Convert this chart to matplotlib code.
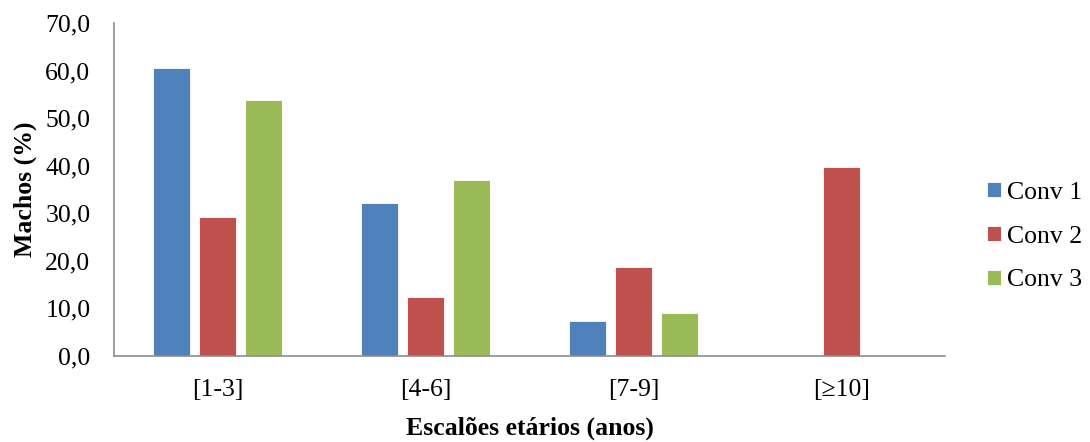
import numpy as np
import matplotlib
matplotlib.use("Agg")
import matplotlib.pyplot as plt

plt.rcParams['font.family'] = ['Liberation Serif', 'DejaVu Serif']

categories = ['[1-3]', '[4-6]', '[7-9]', '[≥10]']
conv1 = [60.5, 32.1, 7.3, 0.0]
conv2 = [29.1, 12.4, 18.7, 39.6]
conv3 = [53.9, 37.0, 8.9, 0.0]
series_names = ['Conv 1', 'Conv 2', 'Conv 3']
colors = ['#4f81bd', '#c0504d', '#9bbb59']

fig = plt.figure(figsize=(10.9, 4.42), dpi=100)
ax = fig.add_axes([114/1090, 1 - 355.7/442, (945-114)/1090, (355.7-23)/442])

x = np.arange(len(categories))
w = 0.178
step = 0.221
for i, (vals, name, c) in enumerate(zip([conv1, conv2, conv3], series_names, colors)):
    ax.bar(x + (i - 1) * step, vals, width=w, color=c, label=name,
           edgecolor='white', linewidth=0.6)

ax.set_xlim(-0.5, len(categories) - 0.5)
ax.set_ylim(0, 70)
ax.set_yticks(np.arange(0, 71, 10))
ax.set_yticklabels([f'{v:.1f}'.replace('.', ',') for v in np.arange(0, 71, 10)], fontsize=18.5)
ax.set_xticks(x)
ax.set_xticklabels(categories, fontsize=18.5)
ax.tick_params(axis='y', length=0, pad=17)
ax.tick_params(axis='x', length=0, pad=17)

for s in ['top', 'right']:
    ax.spines[s].set_visible(False)
for s in ['left', 'bottom']:
    ax.spines[s].set_color('#8c8c8c')
    ax.spines[s].set_linewidth(1.2)

ax.set_ylabel('Machos (%)', fontsize=18.5, fontweight='bold', labelpad=6)
ax.set_xlabel('Escalões etários (anos)', fontsize=18.5, fontweight='bold', labelpad=11)

ax.legend(loc='center left', bbox_to_anchor=(1.05, 0.358), frameon=False,
          fontsize=18.5, handlelength=0.55, handleheight=0.55, handletextpad=0.25,
          labelspacing=0.85, borderpad=0, borderaxespad=0)

fig.savefig('out.png', dpi=100)
